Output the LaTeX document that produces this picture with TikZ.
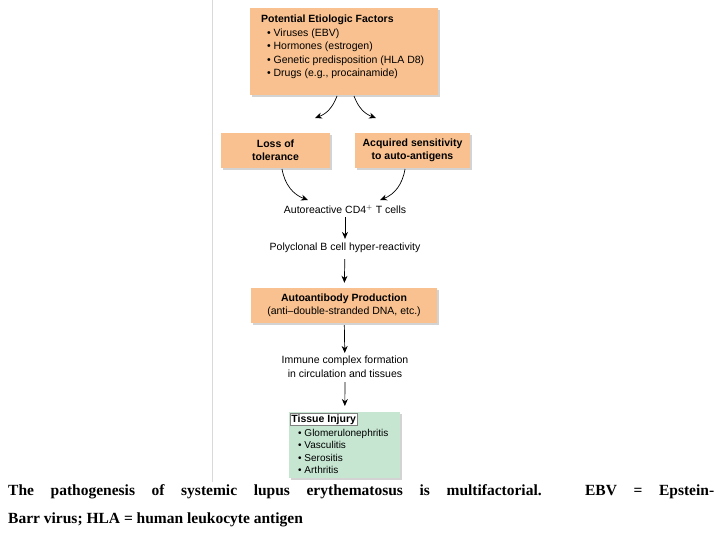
\documentclass[tikz,border=0pt]{standalone}
\usepackage{fontspec}
\setmainfont{Liberation Sans}
\newfontfamily\capfont{Liberation Serif}
\usetikzlibrary{shadows,arrows.meta}
\definecolor{org}{HTML}{F9C18F}
\definecolor{grn}{HTML}{C6E6D2}
\begin{document}
\begin{tikzpicture}[x=1pt,y=-1pt,
  box/.style={fill=org,draw=none,drop shadow={shadow xshift=2pt,shadow yshift=-2pt,opacity=0.35}},
  arr/.style={-{Stealth[length=7pt,width=6pt]},line width=0.7pt},
  txt/.style={font=\fontsize{10.5}{13}\selectfont,align=center,inner sep=1pt}]
\useasboundingbox (0,0) rectangle (720,540);
\draw[gray!30] (212,0) -- (212,482);
% top box
\node[box,minimum width=188pt,minimum height=87pt,anchor=north west] (top) at (250,8) {};
\node[anchor=north west,align=left,font=\fontsize{10.5}{13.5}\selectfont,inner sep=0] at (261,15)
 {\textbf{Potential Etiologic Factors}\\
  \ \ • Viruses (EBV)\\ \ \ • Hormones (estrogen)\\ \ \ • Genetic predisposition (HLA D8)\\ \ \ • Drugs (e.g., procainamide)};
\node[box,minimum width=109pt,minimum height=35pt,txt,font=\fontsize{10.5}{13}\selectfont\bfseries] (loss) at (275.5,150.5) {Loss of\\tolerance};
\node[box,minimum width=115pt,minimum height=35pt,txt,font=\fontsize{10.5}{13}\selectfont\bfseries] (acq) at (412.5,150.5) {Acquired sensitivity\\to auto-antigens};
\node[txt] (cd4) at (345,209) {Autoreactive CD4$^{+}$ T cells};
\node[txt] (poly) at (345,248) {Polyclonal B cell hyper-reactivity};
\node[box,minimum width=186pt,minimum height=35pt,txt] (auto) at (344,305.5) {\textbf{Autoantibody Production}\\(anti–double-stranded DNA, etc.)};
\node[txt,font=\fontsize{10.5}{14}\selectfont] (imm) at (345,367) {Immune complex formation\\in circulation and tissues};
\node[fill=grn,minimum width=111pt,minimum height=66pt,anchor=north west,drop shadow={shadow xshift=2pt,shadow yshift=-2pt,opacity=0.35}] (tis) at (289,412) {};
\node[fill=white,draw=gray,anchor=north west,inner sep=1.2pt,font=\fontsize{10.5}{12}\selectfont\bfseries] (tlab) at (290,413) {Tissue Injury};
\node[anchor=north west,align=left,font=\fontsize{10}{12.3}\selectfont,inner sep=0] (tlist) at (298,429)
 {• Glomerulonephritis\\• Vasculitis\\• Serositis\\• Arthritis};
% arrows
\draw[arr] (337,96) to[bend left=25] (315,118);
\draw[arr] (354,96) to[bend right=25] (376,118);
\draw[arr] (282,169) to[bend right=30] (308,200);
\draw[arr] (405,169) to[bend left=30] (380,200);
\draw[arr,shorten <=3pt,shorten >=3pt] (cd4) -- (poly);
\draw[arr,shorten <=5pt,shorten >=5pt] (poly) -- (auto);
\draw[arr,shorten <=2pt,shorten >=2pt] (auto) -- (imm);
\draw[arr,shorten <=3pt,shorten >=6pt] (imm) -- (tis);
\node[anchor=north west,text width=706pt,align=justify,inner sep=0,font=\capfont\bfseries\fontsize{15.5}{28}\selectfont] (cap) at (8,484)
 {The pathogenesis of systemic lupus erythematosus is multifactorial. EBV = Epstein-\linebreak Barr virus; HLA = human leukocyte antigen};
\end{tikzpicture}
\end{document}
